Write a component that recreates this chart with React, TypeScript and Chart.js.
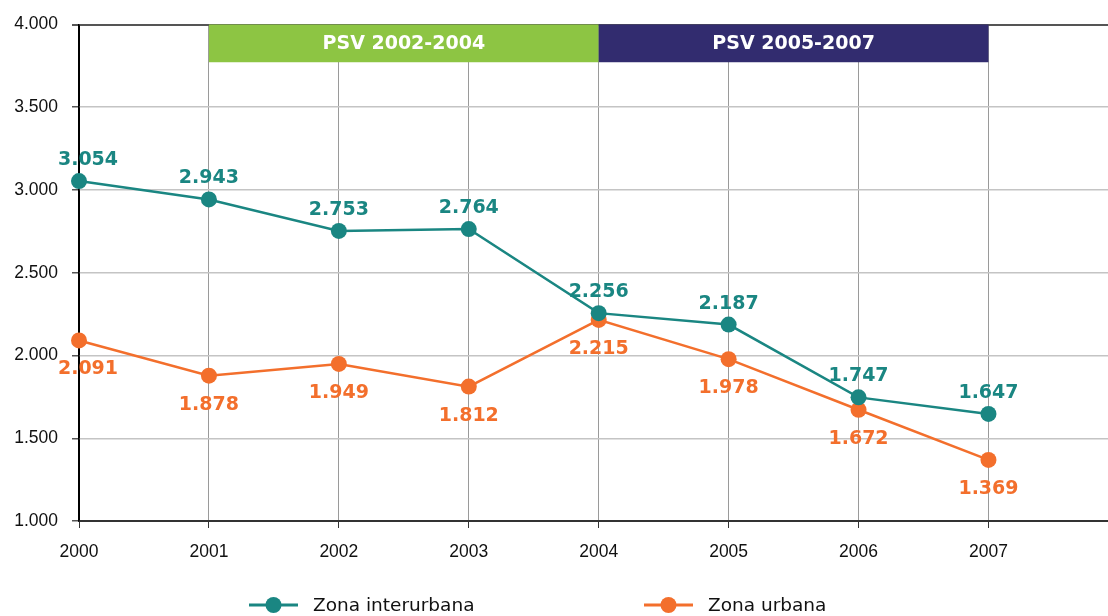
import React, { useEffect, useRef } from "react";
import { Chart, registerables } from "chart.js";

Chart.register(...registerables);

const years = [2000, 2001, 2002, 2003, 2004, 2005, 2006, 2007];
const interurbana = [3054, 2943, 2753, 2764, 2256, 2187, 1747, 1647];
const urbana = [2091, 1878, 1949, 1812, 2215, 1978, 1672, 1369];
const seriesNames = ["Zona interurbana", "Zona urbana"];
const seriesColors = ["#1A8682", "#F36F2C"];

const bandLabels = ["PSV 2002-2004", "PSV 2005-2007"];
const bandStarts = [2001, 2004];
const bandEnds = [2004, 2007];
const bandColors = ["#8DC543", "#322C6F"];
const bandBottom = 3772;

const yMin = 1000;
const yMax = 4000;
const yStep = 500;
const xMax = 2007.92;

const fmt = (n: number) =>
  String(Math.round(n)).replace(/\B(?=(\d{3})+(?!\d))/g, ".");

const bandPlugin = {
  id: "bands",
  beforeDatasetsDraw(chart: any) {
    const { ctx, scales } = chart;
    const x = scales.x;
    const y = scales.y;
    ctx.save();
    for (let i = 0; i < bandLabels.length; i++) {
      const x0 = x.getPixelForValue(bandStarts[i]);
      const x1 = x.getPixelForValue(bandEnds[i]);
      const y0 = y.getPixelForValue(yMax);
      const y1 = y.getPixelForValue(bandBottom);
      ctx.fillStyle = bandColors[i];
      ctx.fillRect(x0, y0, x1 - x0, y1 - y0);
      ctx.fillStyle = "#ffffff";
      ctx.font = "bold 19px 'DejaVu Sans'";
      ctx.textAlign = "center";
      ctx.textBaseline = "middle";
      ctx.fillText(bandLabels[i], (x0 + x1) / 2, (y0 + y1) / 2 + 1);
    }
    ctx.restore();
  },
};

const labelPlugin = {
  id: "valueLabels",
  afterDatasetsDraw(chart: any) {
    const { ctx } = chart;
    ctx.save();
    ctx.font = "bold 19px 'DejaVu Sans'";
    ctx.textAlign = "center";
    ctx.textBaseline = "alphabetic";
    chart.data.datasets.forEach((ds: any, di: number) => {
      const meta = chart.getDatasetMeta(di);
      ctx.fillStyle = ds.borderColor;
      meta.data.forEach((pt: any, i: number) => {
        const v = ds.data[i].y;
        const px = pt.x + (i === 0 ? 9 : 0);
        const py = di === 0 ? pt.y - 16 : pt.y + 34;
        ctx.fillText(fmt(v), px, py);
      });
    });
    ctx.restore();
  },
};

const legendPlugin = {
  id: "customLegend",
  afterDraw(chart: any) {
    const { ctx } = chart;
    ctx.save();
    const yc = 605;
    chart.data.datasets.forEach((ds: any, di: number) => {
      const x0 = 249 + di * 395;
      ctx.strokeStyle = ds.borderColor;
      ctx.lineWidth = 3;
      ctx.beginPath();
      ctx.moveTo(x0, yc);
      ctx.lineTo(x0 + 49, yc);
      ctx.stroke();
      ctx.fillStyle = ds.borderColor;
      ctx.beginPath();
      ctx.arc(x0 + 24.5, yc, 8, 0, Math.PI * 2);
      ctx.fill();
      ctx.fillStyle = "#111";
      ctx.font = "18.5px 'DejaVu Sans'";
      ctx.textAlign = "left";
      ctx.textBaseline = "middle";
      ctx.fillText(ds.label, x0 + 64, yc + 1);
    });
    ctx.restore();
  },
};

export default function App() {
  const ref = useRef<HTMLCanvasElement>(null);

  useEffect(() => {
    if (!ref.current) return;
    const mk = (vals: number[], i: number) => ({
      label: seriesNames[i],
      data: years.map((yr, k) => ({ x: yr, y: vals[k] })),
      borderColor: seriesColors[i],
      backgroundColor: seriesColors[i],
      pointBackgroundColor: seriesColors[i],
      pointBorderWidth: 0,
      pointRadius: 8,
      borderWidth: 2.5,
      tension: 0,
      clip: false as any,
    });
    const chart = new Chart(ref.current, {
      type: "line",
      data: { datasets: [mk(interurbana, 0), mk(urbana, 1)] },
      plugins: [bandPlugin, labelPlugin, legendPlugin],
      options: {
        animation: false,
        responsive: false,
        maintainAspectRatio: false,
        layout: { autoPadding: false, padding: { top: 22, right: 0, left: 0, bottom: 0 } },
        plugins: {
          legend: { display: false },
          tooltip: { enabled: false },
        },
        scales: {
          x: {
            type: "linear",
            min: years[0],
            max: xMax,
            afterBuildTicks: (scale: any) => {
              scale.ticks = years.map((v) => ({ value: v }));
            },
            afterFit: (scale: any) => {
              scale.height = 95;
              scale.paddingRight = 0;
            },
            ticks: {
              callback: (v: any) => String(v),
              color: "#111",
              font: { family: "'Liberation Sans'", size: 17.5 },
              padding: 14,
              maxRotation: 0,
            },
            grid: {
              color: (c: any) => (c.tick && c.tick.value === years[0] ? "#000" : "#9a9a9a"),
              lineWidth: 1,
              tickLength: 7,
              tickColor: "#333",
            },
            border: { color: "#333", width: 2 },
          },
          y: {
            min: yMin,
            max: yMax,
            afterFit: (scale: any) => {
              scale.width = 79;
            },
            ticks: {
              stepSize: yStep,
              callback: (v: any) => fmt(Number(v)),
              color: "#111",
              font: { family: "'Liberation Sans'", size: 17.5 },
              padding: 14,
            },
            grid: {
              color: (c: any) => (c.tick && c.tick.value === yMax ? "#555" : "#c4c4c4"),
              lineWidth: (c: any) => (c.tick && c.tick.value === yMax ? 2 : 1.5),
              tickLength: 7,
              tickColor: "#555",
            },
            border: { color: "#000", width: 1.5 },
          },
        },
      },
    });
    return () => chart.destroy();
  }, []);

  return (
    <div style={{ position: "fixed", left: 0, top: 0, width: 1108, height: 616, background: "#fff" }}>
      <canvas ref={ref} width={1108} height={616} style={{ width: 1108, height: 616, display: "block" }} />
    </div>
  );
}
